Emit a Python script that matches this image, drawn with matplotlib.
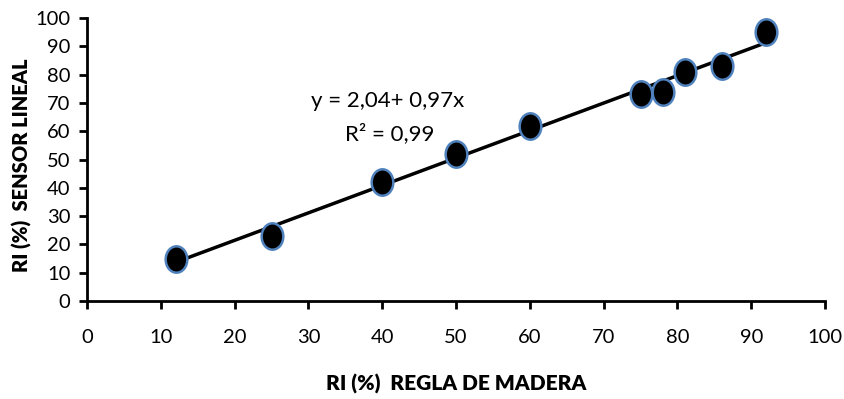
import matplotlib
matplotlib.use("Agg")
import matplotlib.pyplot as plt
from matplotlib.path import Path
from matplotlib.transforms import Affine2D
import numpy as np

# Measured values: wooden ruler vs linear sensor
regla = [12, 25, 40, 50, 60, 75, 78, 81, 86, 92]
sensor = [15, 23, 42, 52, 62, 73, 74, 81, 83, 95]

# Regression coefficients shown on the chart
intercept = 2.04
slope = 0.97

plt.rcParams['font.family'] = ['Lato', 'DejaVu Sans']

fig = plt.figure(figsize=(8.44, 3.99), dpi=100)
ax = fig.add_axes([0.1031, 0.2456, 0.8744, 0.7093])

# Trend line across the data range
xl = np.array([min(regla), max(regla)])
ax.plot(xl, intercept + slope * xl, color='black', lw=2.5, zorder=2)

# Slightly tall elliptical markers
oval = Path.unit_circle().transformed(Affine2D().scale(0.82, 1.0))
ax.plot(regla, sensor, linestyle='none', marker=oval, markersize=19,
        markerfacecolor='black', markeredgecolor='#4f81bd', markeredgewidth=1.8,
        zorder=3)

ax.text(0.408, 0.705, 'y = 2,04+ 0,97x', transform=ax.transAxes,
        ha='center', va='center', fontsize=16)
ax.text(0.41, 0.59, 'R² = 0,99', transform=ax.transAxes,
        ha='center', va='center', fontsize=16)

ax.set_xlim(0, 100)
ax.set_ylim(0, 100)
ax.set_xticks(range(0, 101, 10))
ax.set_yticks(range(0, 101, 10))
ax.tick_params(direction='out', length=6, width=2, labelsize=14.5, pad=6)
ax.tick_params(axis='x', pad=14)

for s in ['top', 'right']:
    ax.spines[s].set_visible(False)
for s in ['left', 'bottom']:
    ax.spines[s].set_linewidth(2)

ax.set_xlabel('RI (%)  REGLA DE MADERA', fontsize=15, fontweight='heavy', labelpad=20)
# y label placed by hand so it sits clear of the left edge
fig.text(0.026, 0.586, 'RI (%)  SENSOR LINEAL', rotation=90, ha='center',
         va='center', fontsize=14.5, fontweight='heavy')

fig.savefig('out.png', dpi=100)
